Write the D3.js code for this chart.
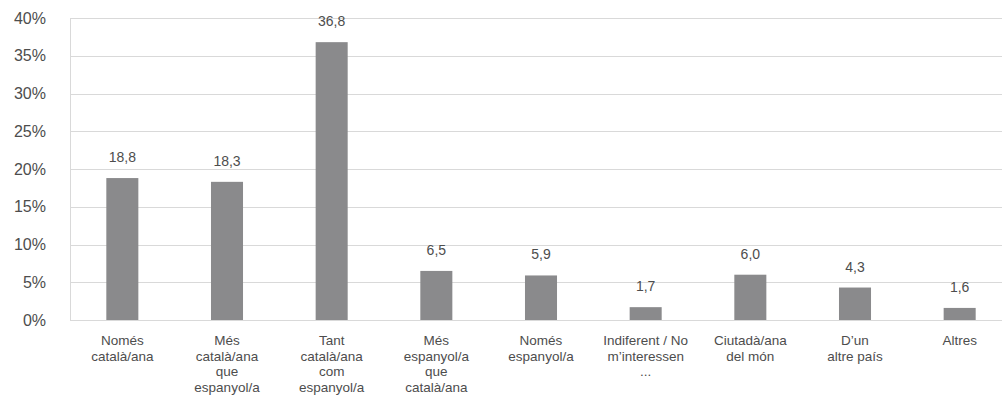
<!DOCTYPE html>
<html><head><meta charset="utf-8">
<script src="https://cdn.jsdelivr.net/npm/d3@7"></script>
<style>
html,body{margin:0;padding:0;background:#fff;}
svg{display:block;}
text{font-family:"Liberation Sans","Helvetica Neue",Arial,sans-serif;fill:#4d4d4d;}
</style></head>
<body>
<svg id="chart" width="1002" height="408"></svg>
<script>
const categories = [
  ["Només","català/ana"],
  ["Més","català/ana","que","espanyol/a"],
  ["Tant","català/ana","com","espanyol/a"],
  ["Més","espanyol/a","que","català/ana"],
  ["Només","espanyol/a"],
  ["Indiferent / No","m’interessen","..."],
  ["Ciutadà/ana","del món"],
  ["D’un","altre país"],
  ["Altres"]
];
const values = [18.8, 18.3, 36.8, 6.5, 5.9, 1.7, 6.0, 4.3, 1.6];
const yTicks = [0, 5, 10, 15, 20, 25, 30, 35, 40];

(function () {
const svg = d3.select("#chart");
const mLeft = 70, mRight = 1012, mTop = 18, mBottom = 320;
const keys = categories.map((c, i) => i);

const x = d3.scaleBand().domain(keys).range([mLeft, mRight])
  .paddingInner(0.694).paddingOuter(0.347);
const y = d3.scaleLinear().domain([0, 40]).range([mBottom, mTop]);

svg.append("g").selectAll("line").data(yTicks).join("line")
  .attr("x1", mLeft).attr("x2", 1002)
  .attr("y1", d => Math.round(y(d)) + 0.5).attr("y2", d => Math.round(y(d)) + 0.5)
  .attr("stroke", "#d9d9d9").attr("stroke-width", 1);

svg.append("line").attr("x1", mLeft + 0.5).attr("x2", mLeft + 0.5)
  .attr("y1", y(40)).attr("y2", y(0))
  .attr("stroke", "#d9d9d9");

const yAxis = d3.axisLeft(y).tickValues(yTicks).tickFormat(d => d + "%").tickSize(0).tickPadding(24);
const gy = svg.append("g").attr("transform", `translate(${mLeft},0)`).call(yAxis);
gy.select(".domain").remove();
gy.selectAll("text").attr("font-size", 16).attr("fill", "#4d4d4d")
  .attr("font-family", "Liberation Sans, Arial, sans-serif");

svg.append("g").selectAll("rect").data(values).join("rect")
  .attr("x", (d, i) => x(i)).attr("width", x.bandwidth())
  .attr("y", d => y(d)).attr("height", d => y(0) - y(d))
  .attr("fill", "#8a8a8c");

svg.append("g").selectAll("text").data(values).join("text")
  .attr("x", (d, i) => x(i) + x.bandwidth() / 2)
  .attr("y", d => y(d) - 16)
  .attr("text-anchor", "middle").attr("font-size", 14)
  .text(d => d.toFixed(1).replace(".", ","));

const cg = svg.append("g").selectAll("text").data(categories).join("text")
  .attr("x", (d, i) => x(i) + x.bandwidth() / 2)
  .attr("y", 345)
  .attr("text-anchor", "middle").attr("font-size", 13.5);
cg.each(function(lines, i) {
  d3.select(this).selectAll("tspan").data(lines).join("tspan")
    .attr("x", x(i) + x.bandwidth() / 2)
    .attr("dy", (l, j) => j === 0 ? 0 : 15.5)
    .text(l => l);
});
})();
</script>
</body></html>
